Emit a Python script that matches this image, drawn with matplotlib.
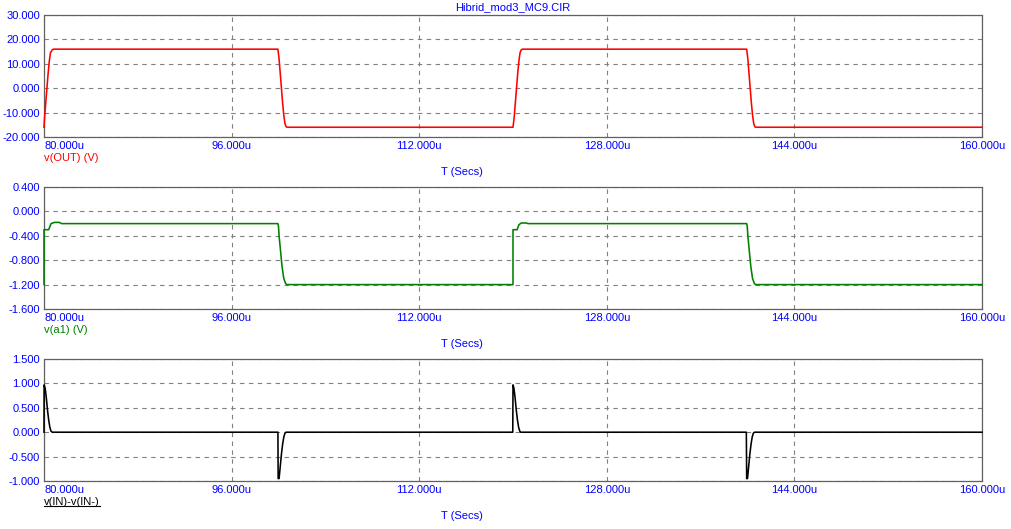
import matplotlib
matplotlib.use("Agg")
import matplotlib.pyplot as plt
from matplotlib.lines import Line2D

plt.rcParams['font.family'] = ['Liberation Sans', 'DejaVu Sans']
plt.rcParams['font.size'] = 8

W, H = 1011, 529

# --- data (time in microseconds) ---
title = "Hibrid_mod3_MC9.CIR"
x_ticks = [80, 96, 112, 128, 144, 160]
x_tick_labels = ["80.000u", "96.000u", "112.000u", "128.000u", "144.000u", "160.000u"]

t_out = [80.0, 80.05, 80.15, 80.25, 80.35, 80.45, 80.55, 80.7, 80.8,
         99.95, 100.05, 100.15, 100.25, 100.35, 100.45, 100.55, 100.65, 100.75,
         120.0, 120.1, 120.2, 120.3, 120.4, 120.5, 120.6, 120.7, 120.8,
         139.93, 140.03, 140.13, 140.23, 140.33, 140.43, 140.53, 140.63, 140.7, 160.0]
v_out = [-16.0, -12.0, -6.0, 0.0, 6.0, 11.0, 14.5, 15.7, 16.0,
         16.0, 12.0, 6.0, 0.0, -6.0, -11.0, -14.5, -15.8, -16.0,
         -16.0, -12.0, -6.0, 0.0, 6.0, 11.0, 14.5, 15.7, 16.0,
         16.0, 12.0, 6.0, 0.0, -6.0, -11.0, -14.5, -15.8, -16.0, -16.0]
out_ticks = [30, 20, 10, 0, -10, -20]
out_tick_labels = ["30.000", "20.000", "10.000", "0.000", "-10.000", "-20.000"]

t_a1 = [80.0, 80.0, 80.4, 80.5, 80.6, 80.9, 81.3, 81.5,
        99.95, 100.0, 100.05, 100.15, 100.3, 100.45, 100.6, 100.7,
        120.0, 120.0, 120.35, 120.5, 120.7, 121.1, 121.3,
        139.93, 139.98, 140.03, 140.13, 140.28, 140.43, 140.58, 140.68, 160.0]
v_a1 = [-1.2, -0.3, -0.3, -0.25, -0.2, -0.18, -0.18, -0.2,
        -0.2, -0.25, -0.4, -0.6, -0.9, -1.1, -1.18, -1.2,
        -1.2, -0.3, -0.3, -0.22, -0.19, -0.19, -0.2,
        -0.2, -0.25, -0.4, -0.6, -0.9, -1.1, -1.18, -1.2, -1.2]
a1_ticks = [0.4, 0.0, -0.4, -0.8, -1.2, -1.6]
a1_tick_labels = ["0.400", "0.000", "-0.400", "-0.800", "-1.200", "-1.600"]

t_in = [80.0, 80.01, 80.1, 80.2, 80.3, 80.4, 80.5, 80.6, 80.7,
        99.95, 99.97, 100.05, 100.15, 100.25, 100.35, 100.45, 100.55, 100.65,
        119.98, 120.0, 120.08, 120.18, 120.28, 120.38, 120.48, 120.58, 120.65,
        139.9, 139.93, 140.0, 140.1, 140.2, 140.3, 140.4, 140.5, 140.6, 160.0]
v_in = [0.0, 0.97, 0.9, 0.7, 0.45, 0.25, 0.1, 0.02, 0.0,
        0.0, -0.95, -0.95, -0.7, -0.45, -0.25, -0.1, -0.02, 0.0,
        0.0, 0.97, 0.9, 0.7, 0.45, 0.25, 0.1, 0.02, 0.0,
        0.0, -0.95, -0.95, -0.7, -0.45, -0.25, -0.1, -0.02, 0.0, 0.0]
in_ticks = [1.5, 1.0, 0.5, 0.0, -0.5, -1.0]
in_tick_labels = ["1.500", "1.000", "0.500", "0.000", "-0.500", "-1.000"]

BLUE = "#0000ff"
GRID = "#808080"


def fx(x):
    return x / W


def fy(y):
    return 1 - y / H


fig = plt.figure(figsize=(W / 100, H / 100), dpi=100)

panels = [
    (15, t_out, v_out, "#ff0000", out_ticks, out_tick_labels, "v(OUT) (V)", False),
    (187, t_a1, v_a1, "#008000", a1_ticks, a1_tick_labels, "v(a1) (V)", False),
    (359, t_in, v_in, "#000000", in_ticks, in_tick_labels, "v(IN)-v(IN-)", True),
]

underline_texts = []
for top, t, v, col, yt, ytl, lab, under in panels:
    ax = fig.add_axes([fx(44), fy(top + 122), fx(938), 122 / H])
    ax.plot(t, v, color=col, lw=1.15, zorder=3, clip_on=False)
    ax.set_xlim(80, 160)
    ax.set_ylim(min(yt), max(yt))
    ax.set_xticks(x_ticks)
    ax.set_xticklabels(x_tick_labels, color=BLUE)
    ax.get_xticklabels()[0].set_horizontalalignment('left')
    ax.set_yticks(yt)
    ax.set_yticklabels(ytl, color=BLUE)
    ax.tick_params(length=0, labelsize=8)
    ax.tick_params(axis='x', pad=3)
    ax.tick_params(axis='y', pad=3)
    ax.grid(True, color=GRID, ls=(0, (4, 4)), lw=0.8)
    for s in ax.spines.values():
        s.set_color("#606060")
        s.set_linestyle((0, (1, 1)))
        s.set_linewidth(0.9)
    txt = fig.text(fx(44), fy(top + 143), lab, color=col, fontsize=8, ha='left', va='center')
    fig.text(fx(462), fy(top + 157), "T (Secs)", color=BLUE, fontsize=8, ha='center', va='center')
    if under:
        underline_texts.append(txt)

fig.text(fx(513), fy(7), title, color=BLUE, fontsize=8, ha='center', va='center')

# underline the bottom trace label
fig.canvas.draw()
r = fig.canvas.get_renderer()
for txt in underline_texts:
    bb = txt.get_window_extent(r)
    yline = bb.y0 + 1
    fig.add_artist(Line2D([bb.x0 / W, bb.x1 / W], [yline / H, yline / H],
                          color="#000000", lw=0.8, transform=fig.transFigure))

fig.savefig("out.png", dpi=100)
